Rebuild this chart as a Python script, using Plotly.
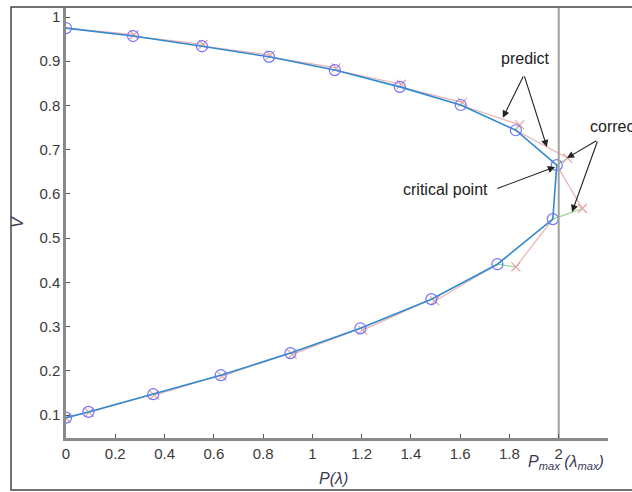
import plotly.graph_objects as go

# Corrected (converged) points along the continuation path
p_corr = [0.0, 0.272, 0.552, 0.824, 1.091, 1.355, 1.602, 1.826, 1.992,
          1.976, 1.751, 1.483, 1.195, 0.911, 0.628, 0.354, 0.091, 0.0]
v_corr = [0.975, 0.957, 0.934, 0.910, 0.880, 0.842, 0.801, 0.744, 0.665,
          0.543, 0.441, 0.362, 0.296, 0.240, 0.190, 0.147, 0.107, 0.094]

# Predicted points (one per step, predicting corrected point i+1)
p_pred = [0.276, 0.557, 0.829, 1.097, 1.361, 1.609, 1.842, 2.036,
          2.096, 1.826, 1.497, 1.204, 0.918, 0.633, 0.358, 0.094, 0.0]
v_pred = [0.960, 0.938, 0.914, 0.885, 0.848, 0.807, 0.756, 0.681,
          0.567, 0.435, 0.358, 0.292, 0.237, 0.188, 0.145, 0.106, 0.093]

P_MAX = 2.0
x_ticks = [0, 0.2, 0.4, 0.6, 0.8, 1, 1.2, 1.4, 1.6, 1.8, 2]
y_ticks = [0.1, 0.2, 0.3, 0.4, 0.5, 0.6, 0.7, 0.8, 0.9, 1]

# predictor segments: corrected[i] -> predicted[i]
px, py = [], []
for i in range(len(p_pred)):
    px += [p_corr[i], p_pred[i], None]
    py += [v_corr[i], v_pred[i], None]
# corrector segments: predicted[i] -> corrected[i+1]
cx, cy = [], []
for i in range(len(p_pred)):
    cx += [p_pred[i], p_corr[i + 1], None]
    cy += [v_pred[i], v_corr[i + 1], None]

fig = go.Figure()
fig.add_trace(go.Scatter(x=px, y=py, mode="lines",
                         line=dict(color="#eab0b0", width=1.2), hoverinfo="skip"))
fig.add_trace(go.Scatter(x=cx, y=cy, mode="lines",
                         line=dict(color="#8fd88f", width=1.2), hoverinfo="skip"))
fig.add_trace(go.Scatter(x=p_pred, y=v_pred, mode="markers",
                         marker=dict(symbol="x-thin", size=9, color="#e8a0a0",
                                     line=dict(color="#e8a0a0", width=1.2))))
fig.add_trace(go.Scatter(x=p_corr, y=v_corr, mode="lines",
                         line=dict(color="#2f8ad0", width=1.6)))
fig.add_trace(go.Scatter(x=p_corr, y=v_corr, mode="markers",
                         marker=dict(symbol="circle-open", size=11, color="#7373ff",
                                     line=dict(color="#7373ff", width=1.2))))
# P_max vertical line
fig.add_trace(go.Scatter(x=[P_MAX, P_MAX], y=[0.048, 1.0204], mode="lines",
                         line=dict(color="#a0a0a0", width=2)))

tick_font = dict(family="Liberation Sans, Arial, sans-serif", size=15, color="#3a3a3a")
fig.update_layout(
    width=632, height=492,
    margin=dict(l=66, r=24, t=8, b=54),
    paper_bgcolor="white", plot_bgcolor="white",
    showlegend=False,
    xaxis=dict(range=[0, 2.2], tickvals=x_ticks, ticktext=[str(t) for t in x_ticks],
               ticks="inside", ticklen=4, tickwidth=1.2, tickcolor="#555",
               showline=True, linecolor="#8a8a8a", linewidth=2.5,
               showgrid=False, zeroline=False, tickfont=tick_font),
    yaxis=dict(range=[0.048, 1.0204], tickvals=y_ticks, ticktext=[str(t) for t in y_ticks],
               ticks="inside", ticklen=4, tickwidth=1.2, tickcolor="#555",
               showline=True, linecolor="#8a8a8a", linewidth=2.5,
               showgrid=False, zeroline=False, tickfont=tick_font),
)

txt_font = dict(family="Liberation Sans, Arial, sans-serif", size=16, color="#222")
anns = []
# text labels
anns.append(dict(x=1.867, y=0.907, text="predict", showarrow=False, xanchor="center", font=txt_font))
anns.append(dict(x=2.118, y=0.7535, text="corrector", showarrow=False, xanchor="left", font=txt_font))
anns.append(dict(x=1.542, y=0.609, text="critical point", showarrow=False, xanchor="center", font=txt_font))
# arrows
arrows = [
    ((1.859, 0.869), (1.773, 0.772)),
    ((1.859, 0.869), (1.952, 0.706)),
    ((2.159, 0.722), (2.033, 0.681)),
    ((2.159, 0.722), (2.054, 0.559)),
    ((1.745, 0.611), (1.985, 0.661)),
]
for (tx, ty), (hx, hy) in arrows:
    anns.append(dict(x=hx, y=hy, ax=tx, ay=ty, xref="x", yref="y", axref="x", ayref="y",
                     text="", showarrow=True, arrowhead=2, arrowsize=1.3,
                     arrowwidth=1.1, arrowcolor="#222"))
lab_font = dict(family="Liberation Sans, Arial, sans-serif", size=16, color="#3a3a55")
anns.append(dict(x=(334 - 66) / 246.4, y=-(478 - 438) / 430, xref="x", yref="paper",
                 text="<i>P(λ)</i>", showarrow=False, xanchor="center", yanchor="middle",
                 font=lab_font))
anns.append(dict(x=(566 - 66) / 246.4, y=-(462 - 438) / 430, xref="x", yref="paper",
                 text="<i>P<sub>max</sub> (λ<sub>max</sub>)</i>", showarrow=False,
                 xanchor="center", yanchor="middle", font=lab_font))
anns.append(dict(x=(18 - 66) / 542, y=(438 - 222) / 430, xref="paper", yref="paper",
                 text="<i>V</i>", textangle=-90, showarrow=False, xanchor="center",
                 yanchor="middle", font=lab_font))
fig.update_layout(annotations=anns)

# outer frame
fig.add_shape(type="rect", xref="paper", yref="paper",
              x0=(11 - 66) / 542, x1=(640 - 66) / 542,
              y0=-(490 - 438) / 430, y1=1 + 1 / 430,
              line=dict(color="#444", width=1.5), layer="below")

fig.write_html("out.html")
